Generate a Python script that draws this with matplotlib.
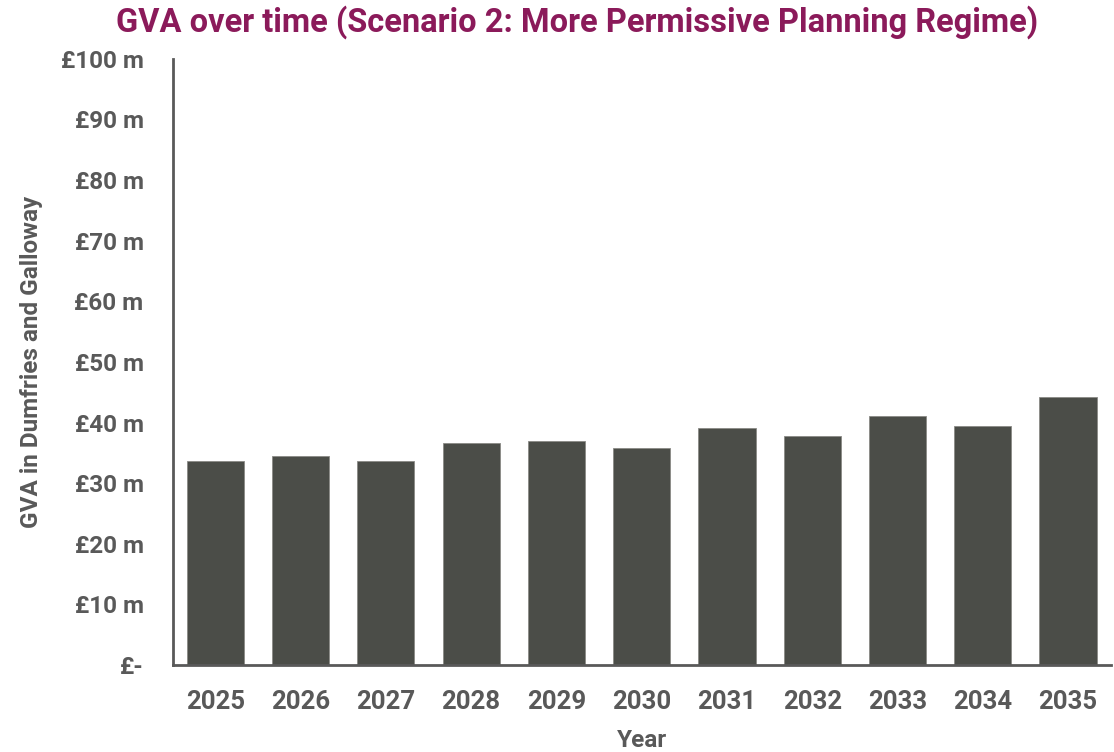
import matplotlib.pyplot as plt
import numpy as np
from matplotlib.ticker import FuncFormatter

years = ['2025', '2026', '2027', '2028', '2029', '2030', '2031', '2032', '2033', '2034', '2035']
gva_m = [33.7, 34.5, 33.7, 36.6, 36.9, 35.8, 39.1, 37.8, 41.1, 39.4, 44.2]

plt.rcParams['font.family'] = ['Roboto', 'DejaVu Sans']
plt.rcParams['font.weight'] = 'bold'

grey = '#595959'
fig = plt.figure(figsize=(11.14, 7.52), dpi=100)
ax = fig.add_axes([0.155, 0.1157, 0.842, 0.806])

x = np.arange(len(years))
ax.bar(x, gva_m, width=0.67, color='#4B4D48', edgecolor='#8a8a86', linewidth=0.6)

ax.set_xlim(-0.5, len(years) - 0.5)
ax.set_ylim(0, 100)
ax.set_yticks(np.arange(0, 101, 10))
ax.yaxis.set_major_formatter(FuncFormatter(lambda v, p: '£-' if v == 0 else '£%d m' % v))
ax.set_xticks(x)
ax.set_xticklabels(years)
ax.tick_params(length=0, colors=grey)
ax.tick_params(axis='x', labelsize=18.5, pad=18)
ax.tick_params(axis='y', labelsize=17.5, pad=21)
for s in ['top', 'right']:
    ax.spines[s].set_visible(False)
for s in ['left', 'bottom']:
    ax.spines[s].set_color(grey)
    ax.spines[s].set_linewidth(2)

ax.set_ylabel('GVA in Dumfries and Galloway', fontsize=17.5, color=grey, fontweight='bold', labelpad=13)
ax.set_xlabel('Year', fontsize=17.5, color=grey, fontweight='bold', labelpad=11)
fig.text(0.518, 0.971, 'GVA over time (Scenario 2: More Permissive Planning Regime)',
         ha='center', va='center', fontsize=23.5, color='#8B1A5A', fontweight='bold')

fig.savefig('out.png', dpi=100)
